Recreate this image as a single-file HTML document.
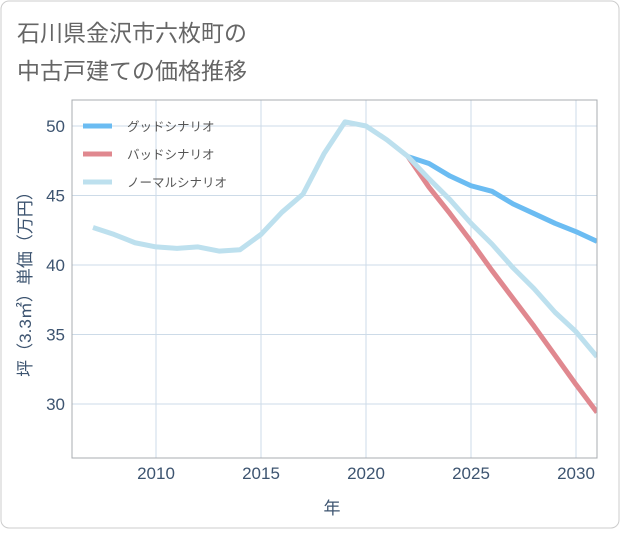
<!DOCTYPE html>
<html><head><meta charset="utf-8"><style>
body{margin:0;background:#fff;font-family:"Liberation Sans","Noto Sans CJK JP",sans-serif}
#wrap{position:relative;width:621px;height:530px}
</style></head><body>
<div id="wrap">
<svg id="chart" width="621" height="530" style="font-family:'Liberation Sans','Noto Sans CJK JP',sans-serif">
<rect x="1" y="1" width="618" height="527" rx="8" fill="#fff" stroke="#ccc"/>
<text x="17" y="41" font-size="23" fill="#666">石川県金沢市六枚町の</text>
<text x="17" y="79" font-size="23" fill="#666">中古戸建ての価格推移</text>
<g id="grid"></g><g id="series"></g><g id="axes"></g>
<text x="332" y="514" font-size="17" fill="#3d5470" text-anchor="middle">年</text>
<text transform="translate(31,280) rotate(-90)" font-size="17" fill="#3d5470" text-anchor="middle">坪（3.3㎡）単価（万円）</text>
<g>
<line x1="83" y1="126" x2="112" y2="126" stroke="#6bbcf2" stroke-width="5"/>
<text x="127" y="131" font-size="12.5" fill="#555">グッドシナリオ</text>
<line x1="83" y1="154" x2="112" y2="154" stroke="#e0888f" stroke-width="5"/>
<text x="127" y="159" font-size="12.5" fill="#555">バッドシナリオ</text>
<line x1="83" y1="182" x2="112" y2="182" stroke="#bde0ee" stroke-width="5"/>
<text x="127" y="187" font-size="12.5" fill="#555">ノーマルシナリオ</text>
</g>
</svg>
</div>
<script>
const normalYears=[2007,2008,2009,2010,2011,2012,2013,2014,2015,2016,2017,2018,2019,2020,2021,2022,2023,2024,2025,2026,2027,2028,2029,2030,2031];
const normalValues=[42.7,42.2,41.6,41.3,41.2,41.3,41.0,41.1,42.2,43.8,45.1,48.0,50.3,50.0,49.0,47.8,46.2,44.7,43.0,41.5,39.8,38.3,36.6,35.2,33.4];
const futureYears=[2022,2023,2024,2025,2026,2027,2028,2029,2030,2031];
const goodValues=[47.8,47.3,46.4,45.7,45.3,44.4,43.7,43.0,42.4,41.7];
const badValues=[47.8,45.6,43.7,41.7,39.6,37.6,35.6,33.5,31.4,29.4];
const xTicks=[2010,2015,2020,2025,2030];
const yTicks=[30,35,40,45,50];
const L=72,R=597,T=100,B=458;
const xs=y=>156+(y-2010)*21;
const ys=v=>126+(50-v)*13.9;
const NS="http://www.w3.org/2000/svg";
function mk(tag,attrs,parent){const e=document.createElementNS(NS,tag);for(const k in attrs)e.setAttribute(k,attrs[k]);parent.appendChild(e);return e;}
const grid=document.getElementById('grid'),axes=document.getElementById('axes'),ser=document.getElementById('series');
xTicks.forEach(t=>{
const l=mk('line',{x1:xs(t),x2:xs(t),y1:T,y2:B,stroke:'#cddbe8'},grid);


const tx=mk('text',{x:xs(t),y:479,'font-size':17,fill:'#3d5470','text-anchor':'middle'},axes);tx.textContent=t;


});
yTicks.forEach(t=>{
const l=mk('line',{x1:L,x2:R,y1:ys(t),y2:ys(t),stroke:'#cddbe8'},grid);


const tx=mk('text',{x:65,y:ys(t)+6,'font-size':17,fill:'#3d5470','text-anchor':'end'},axes);tx.textContent=t;


});
const fr=mk('rect',{x:L,y:T,width:R-L,height:B-T,fill:'none',stroke:'#a8acb0'},axes);


function line(xv,yv,color,name){
const p=mk('polyline',{points:xv.map((x,i)=>xs(x)+','+ys(yv[i])).join(' '),fill:'none',stroke:color,'stroke-width':5,'stroke-linejoin':'round'},ser);


}
line(futureYears,badValues,'#e0888f','bad-scenario-line');
line(futureYears,goodValues,'#6bbcf2','good-scenario-line');
line(normalYears,normalValues,'#bde0ee','normal-scenario-line');
const cp=mk('clipPath',{id:'c'},document.getElementById('chart'));mk('rect',{x:L,y:T-10,width:R-L,height:B-T+10},cp);
ser.setAttribute('clip-path','url(#c)');
</script>
</body></html>
